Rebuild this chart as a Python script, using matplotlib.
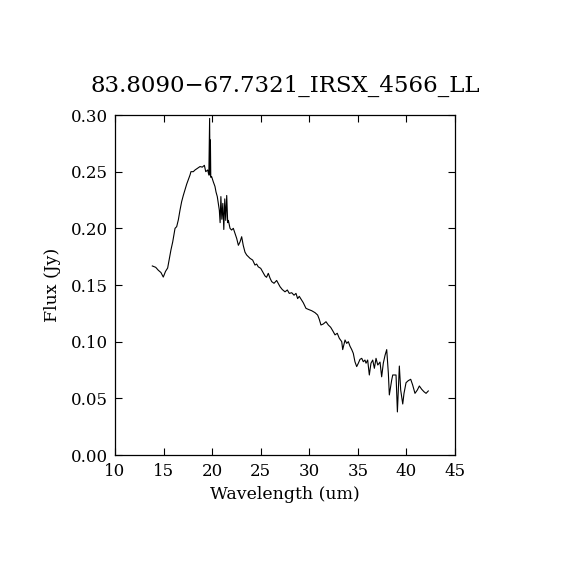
import numpy as np
import matplotlib
matplotlib.use("Agg")
import matplotlib.pyplot as plt

# spectrum (wavelength in um, flux in Jy)
wave = [13.84, 14.19, 14.46, 14.73, 14.97, 15.20, 15.42, 15.60, 15.76, 15.94,
        16.18, 16.35, 16.52, 16.69, 16.86, 17.03, 17.20, 17.38, 17.55, 17.72,
        17.82, 18.06, 18.24, 18.50, 18.75, 18.99, 19.20, 19.34, 19.54, 19.66,
        19.74, 19.78, 19.82, 19.86, 19.95, 20.12, 20.29, 20.40, 20.53, 20.64,
        20.74, 20.82, 20.90, 21.00, 21.10, 21.20, 21.30, 21.40, 21.50, 21.60,
        21.67, 21.84, 22.00, 22.18, 22.35, 22.53, 22.70, 22.87, 23.04, 23.20,
        23.38, 23.55, 23.90, 24.17, 24.41, 24.58, 24.75, 25.00, 25.20, 25.44,
        25.60, 25.78, 25.96, 26.13, 26.37, 26.64, 26.80, 26.99, 27.22, 27.50,
        27.74, 27.94, 28.19, 28.43, 28.63, 28.80, 28.97, 29.20, 29.38, 29.66,
        29.90, 30.25, 30.59, 30.86, 31.03, 31.20, 31.44, 31.72, 31.96, 32.20,
        32.41, 32.65, 32.88, 33.09, 33.34, 33.44, 33.68, 33.85, 34.02, 34.19,
        34.37, 34.53, 34.70, 34.88, 35.05, 35.22, 35.40, 35.56, 35.73, 35.84,
        36.01, 36.18, 36.35, 36.53, 36.70, 36.87, 37.05, 37.28, 37.45, 37.62,
        37.80, 37.97, 38.14, 38.24, 38.48, 38.59, 38.93, 39.07, 39.27, 39.41,
        39.62, 39.75, 39.96, 40.19, 40.44, 40.64, 40.88, 41.12, 41.33, 41.57,
        41.81, 42.02, 42.25]
flux = [0.1668, 0.1656, 0.1630, 0.1610, 0.1570, 0.1620, 0.1650, 0.1735, 0.1810, 0.1880,
        0.2000, 0.2015, 0.2075, 0.2160, 0.2235, 0.2290, 0.2340, 0.2390, 0.2430, 0.2470,
        0.2500, 0.2500, 0.2515, 0.2530, 0.2545, 0.2540, 0.2556, 0.2500, 0.2515, 0.2470,
        0.2970, 0.2470, 0.2780, 0.2450, 0.2456, 0.2410, 0.2370, 0.2320, 0.2280, 0.2220,
        0.2160, 0.2050, 0.2280, 0.2080, 0.2220, 0.1990, 0.2260, 0.2070, 0.2290, 0.2050,
        0.2070, 0.2000, 0.1985, 0.2000, 0.1956, 0.1910, 0.1850, 0.1880, 0.1926, 0.1850,
        0.1790, 0.1765, 0.1735, 0.1720, 0.1676, 0.1685, 0.1660, 0.1647, 0.1617, 0.1580,
        0.1568, 0.1603, 0.1560, 0.1530, 0.1515, 0.1540, 0.1515, 0.1485, 0.1460, 0.1440,
        0.1456, 0.1426, 0.1432, 0.1410, 0.1426, 0.1380, 0.1400, 0.1368, 0.1344, 0.1294,
        0.1285, 0.1273, 0.1256, 0.1235, 0.1197, 0.1147, 0.1156, 0.1176, 0.1147, 0.1127,
        0.1097, 0.1060, 0.1074, 0.1030, 0.1000, 0.0930, 0.1015, 0.0985, 0.1000, 0.0960,
        0.0930, 0.0897, 0.0823, 0.0780, 0.0810, 0.0844, 0.0853, 0.0823, 0.0838, 0.0810,
        0.0838, 0.0706, 0.0810, 0.0838, 0.0765, 0.0853, 0.0794, 0.0820, 0.0690, 0.0810,
        0.0880, 0.0930, 0.0720, 0.0530, 0.0660, 0.0706, 0.0706, 0.0380, 0.0785, 0.0573,
        0.0450, 0.0544, 0.0638, 0.0656, 0.0668, 0.0618, 0.0544, 0.0573, 0.0609, 0.0580,
        0.0558, 0.0544, 0.0565]

title = "83.8090\u221267.7321_IRSX_4566_LL"

plt.rcParams['font.family'] = ['DejaVu Serif']

fig = plt.figure(figsize=(5.7, 5.7), dpi=100)
ax = fig.add_axes([115 / 570, 115 / 570, 340 / 570, 340 / 570])

ax.plot(wave, flux, color='black', lw=0.8)

ax.set_xlim(10, 45)
ax.set_ylim(0, 0.30)
ax.set_xticks(np.arange(10, 46, 5))
ax.set_yticks(np.arange(0, 0.31, 0.05))
ax.set_yticklabels([f"{v:.2f}" for v in np.arange(0, 0.31, 0.05)])
ax.tick_params(direction='in', length=5, width=0.8, top=True, right=True,
               labelsize=12)
ax.tick_params(axis='x', pad=6)
ax.tick_params(axis='y', pad=5)
for s in ax.spines.values():
    s.set_linewidth(0.9)

ax.set_xlabel("Wavelength (um)", fontsize=12.5, labelpad=4)
ax.set_ylabel("Flux (Jy)", fontsize=12.5, labelpad=7)
ax.set_title(title, fontsize=16.5, pad=17)

fig.savefig("out.png", dpi=100)
